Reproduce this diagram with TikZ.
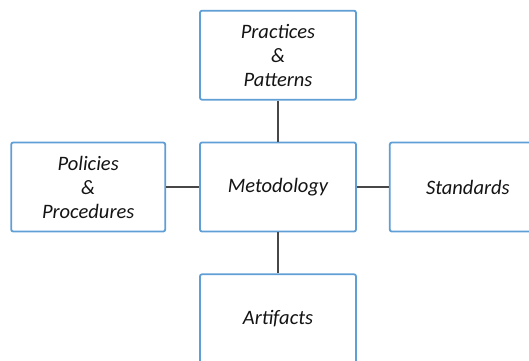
\documentclass[tikz,border=0pt]{standalone}
\usepackage{fontspec}
\setmainfont{Carlito}
\usetikzlibrary{positioning}

\begin{document}
\begin{tikzpicture}[
  x=1pt, y=-1pt,
  box/.style={draw=boxblue, line width=1.8pt, rounded corners=2pt, fill=white,
    minimum width=156pt, minimum height=89pt, align=center, inner sep=0pt,
    font=\fontsize{20.5}{24}\selectfont\itshape, text=black!92},
  link/.style={line width=2.2pt, draw=black!72}
]

\definecolor{boxblue}{RGB}{96,158,214}

\useasboundingbox (0,0) rectangle (529,360);
\clip (0,0) rectangle (529,360);

\node[box] (method) at (278,187) {Metodology};
\node[box, above=41pt of method] (practices) {Practices\\\&\\Patterns};
\node[box, left=33pt of method, minimum width=154pt] (policies) {Policies\\\&\\Procedures};
\node[box, right=32pt of method] (standards) {Standards};
\node[box, below=41pt of method] (artifacts) {Artifacts};

\draw[link] (method) -- (practices);
\draw[link] (method) -- (policies);
\draw[link] (method) -- (standards);
\draw[link] (method) -- (artifacts);

\end{tikzpicture}
\end{document}
